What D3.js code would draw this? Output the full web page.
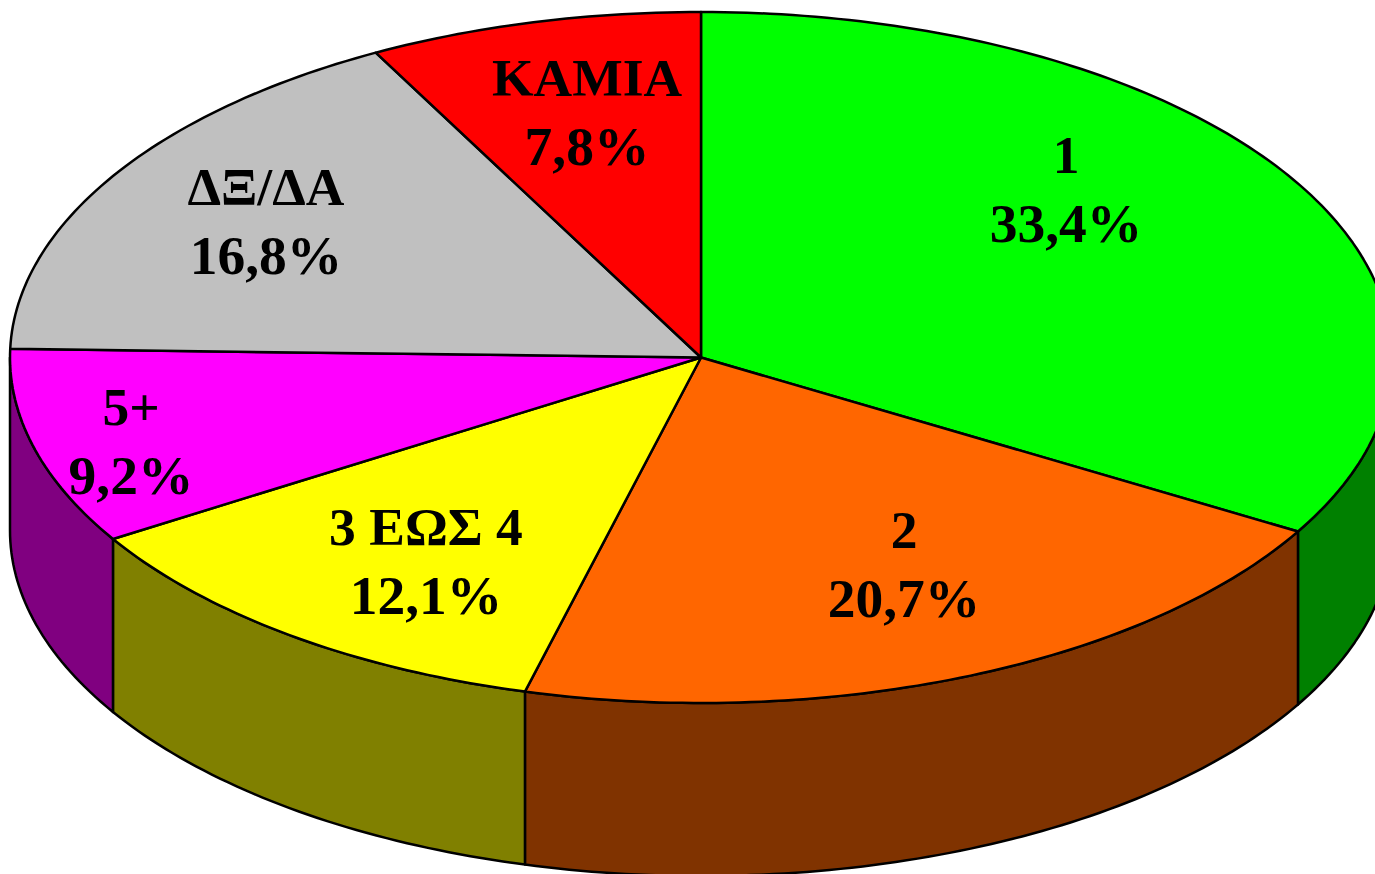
<!DOCTYPE html>
<html>
<head>
<meta charset="utf-8">
<script src="https://cdn.jsdelivr.net/npm/d3@7"></script>
<style>
  html, body { margin: 0; padding: 0; background: #fff; overflow: hidden; }
</style>
</head>
<body>
<div id="vis"></div>
<script>
const categories = ["1", "2", "3 ΕΩΣ 4", "5+", "ΔΞ/ΔΑ", "ΚΑΜΙΑ"];
const values = [33.4, 20.7, 12.1, 9.2, 16.8, 7.8];
const valueLabels = ["33,4%", "20,7%", "12,1%", "9,2%", "16,8%", "7,8%"];
const topColors = ["#00ff00", "#ff6600", "#ffff00", "#ff00ff", "#c0c0c0", "#ff0000"];
const sideColors = ["#008000", "#803300", "#808000", "#800080", "#606060", "#800000"];

// label centres, placed by hand like the original
const labelX = [1066, 904, 426, 131, 266, 587];
const labelY = [155, 530, 527, 407, 187, 78];

const FRAME_WIDTH = 1375;
const FRAME_HEIGHT = 874;
const CX = 701, CY = 357.5;
const RX = 691, RY = 345.5;
const DEPTH = 173;
const LINE_GAP = 69;

const FRAME = d3.select("#vis")
  .append("svg")
    .attr("width", FRAME_WIDTH)
    .attr("height", FRAME_HEIGHT)
    .style("display", "block");

const slices = d3.pie().sort(null).value(d => d)(values);

// angle is clockwise from the top, same as d3.pie
const px = a => CX + RX * Math.sin(a);
const py = (a, drop) => CY - RY * Math.cos(a) + drop;

const rimAngles = (a0, a1) => {
  const n = Math.max(2, Math.ceil((a1 - a0) * 60));
  return d3.range(n + 1).map(i => a0 + (a1 - a0) * i / n);
};

const line = d3.line();

// side walls, only the front half of the rim shows
const front0 = Math.PI / 2, front1 = Math.PI * 1.5;
slices.forEach((s, i) => {
  const a0 = Math.max(s.startAngle, front0);
  const a1 = Math.min(s.endAngle, front1);
  if (a1 <= a0) return;
  const rim = rimAngles(a0, a1);
  const pts = rim.map(a => [px(a), py(a, 0)])
    .concat(rim.slice().reverse().map(a => [px(a), py(a, DEPTH)]));
  FRAME.append("path")
    .attr("d", line(pts) + "Z")
    .attr("fill", sideColors[i])
    .attr("stroke", "#000")
    .attr("stroke-width", 2.5)
    .attr("stroke-linejoin", "round");
});

// top face
slices.forEach((s, i) => {
  const pts = [[CX, CY]].concat(rimAngles(s.startAngle, s.endAngle).map(a => [px(a), py(a, 0)]));
  FRAME.append("path")
    .attr("d", line(pts) + "Z")
    .attr("fill", topColors[i])
    .attr("stroke", "#000")
    .attr("stroke-width", 2.5)
    .attr("stroke-linejoin", "round");
});

// labels
const labels = FRAME.selectAll(".label")
  .data(categories)
  .join("text")
    .attr("class", "label")
    .attr("text-anchor", "middle")
    .attr("font-family", "'Liberation Serif', serif")
    .attr("font-weight", "bold")
    .attr("fill", "#000");

labels.append("tspan")
  .attr("x", (d, i) => labelX[i])
  .attr("y", (d, i) => labelY[i] + 18)
  .attr("font-size", 53.5)
  .text(d => d);

labels.append("tspan")
  .attr("x", (d, i) => labelX[i])
  .attr("y", (d, i) => labelY[i] + 18 + LINE_GAP)
  .attr("font-size", 55.5)
  .text((d, i) => valueLabels[i]);
</script>
</body>
</html>
